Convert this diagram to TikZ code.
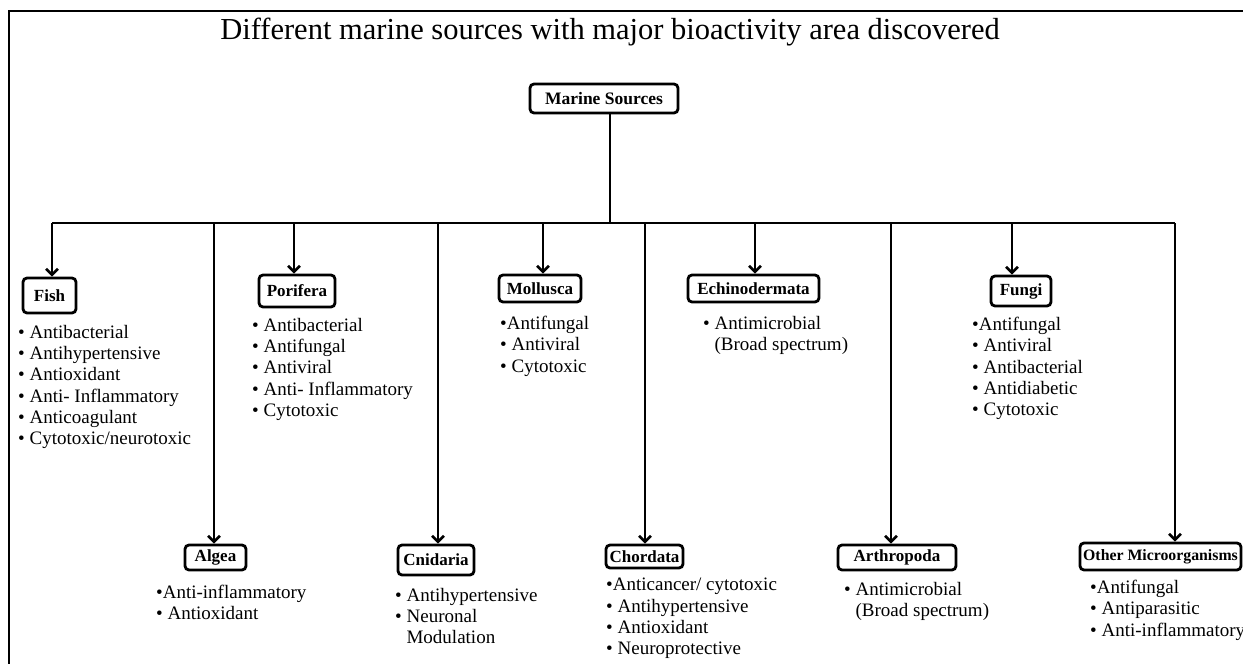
\documentclass[tikz,border=0pt]{standalone}
\usepackage{fontspec}
\setmainfont{Liberation Serif}
\usetikzlibrary{arrows.meta}
\newcommand{\bu}{\textbullet}
\newcommand{\ind}{\phantom{\textbullet\ }}
\begin{document}
\begin{tikzpicture}[x=1pt,y=-1pt,
  conn/.style={line width=2.6pt, line join=round},
  arr/.style={conn, -{Straight Barb[length=6pt,width=12pt]}},
  box/.style={draw, line width=2.8pt, rounded corners=4pt, inner sep=2pt,
    font=\fontsize{17}{19}\selectfont\bfseries, align=center},
  items/.style={anchor=north west, inner sep=0pt, align=left,
    font=\fontsize{19}{21.3}\selectfont},
  frame/.style={line width=2.4pt}]
\useasboundingbox (0,0) rectangle (1243,664);
% frame
\coordinate (fBL) at (9,664);
\coordinate (fTL) at (9,11);
\coordinate (fTR) at (1243,11);
\draw[frame] (fBL) -- (fTL) -- (fTR);
% title
\node[anchor=base, inner sep=0pt, font=\fontsize{30.5}{34}\selectfont] (title) at (610,39)
  {Different marine sources with major bioactivity area discovered};
% root
\node[box, minimum width=148pt, minimum height=29pt, font=\fontsize{17.5}{19}\selectfont\bfseries] (root) at (604,98.5) {Marine Sources};
% boxes
\node[box, minimum width=53pt, minimum height=35pt] (fish) at (49.5,295.5) {Fish};
\node[box, minimum width=76pt, minimum height=32pt] (porifera) at (297,291) {Porifera};
\node[box, minimum width=82pt, minimum height=27pt] (mollusca) at (540,288.5) {Mollusca};
\node[box, minimum width=131pt, minimum height=27pt] (echino) at (753.5,288.5) {Echinodermata};
\node[box, minimum width=60pt, minimum height=30pt] (fungi) at (1021,291) {Fungi};
\node[box, minimum width=61pt, minimum height=25pt] (algea) at (215.5,557.5) {Algea};
\node[box, minimum width=76pt, minimum height=30pt] (cnidaria) at (436,560) {Cnidaria};
\node[box, minimum width=77pt, minimum height=23pt] (chordata) at (644.5,556.5) {Chordata};
\node[box, minimum width=118pt, minimum height=25pt] (arthro) at (897,557.5) {Arthropoda};
\node[box, minimum width=161pt, minimum height=27pt, font=\fontsize{15.8}{18}\selectfont\bfseries] (other) at (1160.5,556.5) {Other Microorganisms};
% bus coordinates
\coordinate (bRoot) at (610,223);
\coordinate (bFish) at (52,223);
\coordinate (bPor) at (294,223);
\coordinate (bMol) at (543,223);
\coordinate (bEch) at (755,223);
\coordinate (bFun) at (1012,223);
\coordinate (bAlg) at (214,223);
\coordinate (bCni) at (438,223);
\coordinate (bCho) at (645,223);
\coordinate (bArt) at (891,223);
\coordinate (bOth) at (1175,223);
% connectors
\draw[conn] (root.south -| bRoot) -- (bRoot);
\draw[conn] (bFish) -- (bOth);
\draw[arr] (bFish) -- (bFish |- fish.north);
\draw[arr] (bPor) -- (bPor |- porifera.north);
\draw[arr] (bMol) -- (bMol |- mollusca.north);
\draw[arr] (bEch) -- (bEch |- echino.north);
\draw[arr] (bFun) -- (bFun |- fungi.north);
\draw[arr] (bAlg) -- (bAlg |- algea.north);
\draw[arr] (bCni) -- (bCni |- cnidaria.north);
\draw[arr] (bCho) -- (bCho |- chordata.north);
\draw[arr] (bArt) -- (bArt |- arthro.north);
\draw[arr] (bOth) -- (bOth |- other.north);
% item lists
\node[items] (fishI) at (18,325) {\bu\ Antibacterial\\\bu\ Antihypertensive\\\bu\ Antioxidant\\\bu\ Anti- Inflammatory\\\bu\ Anticoagulant\\\bu\ Cytotoxic/neurotoxic};
\node[items] (porI) at (252,318) {\bu\ Antibacterial\\\bu\ Antifungal\\\bu\ Antiviral\\\bu\ Anti- Inflammatory\\\bu\ Cytotoxic};
\node[items] (molI) at (500,316) {\bu Antifungal\\\bu\ Antiviral\\\bu\ Cytotoxic};
\node[items] (echI) at (703,316) {\bu\ Antimicrobial\\\ind(Broad spectrum)};
\node[items] (funI) at (972,317) {\bu Antifungal\\\bu\ Antiviral\\\bu\ Antibacterial\\\bu\ Antidiabetic\\\bu\ Cytotoxic};
\node[items] (algI) at (156,585) {\bu Anti-inflammatory\\\bu\ Antioxidant};
\node[items] (cniI) at (395,588) {\bu\ Antihypertensive\\\bu\ Neuronal\\\ind Modulation};
\node[items] (choI) at (606,578) {\bu Anticancer/ cytotoxic\\\bu\ Antihypertensive\\\bu\ Antioxidant\\\bu\ Neuroprotective};
\node[items] (artI) at (844,582) {\bu\ Antimicrobial\\\ind(Broad spectrum)};
\node[items] (othI) at (1090,580) {\bu Antifungal\\\bu\ Antiparasitic\\\bu\ Anti-inflammatory};
\end{tikzpicture}
\end{document}
